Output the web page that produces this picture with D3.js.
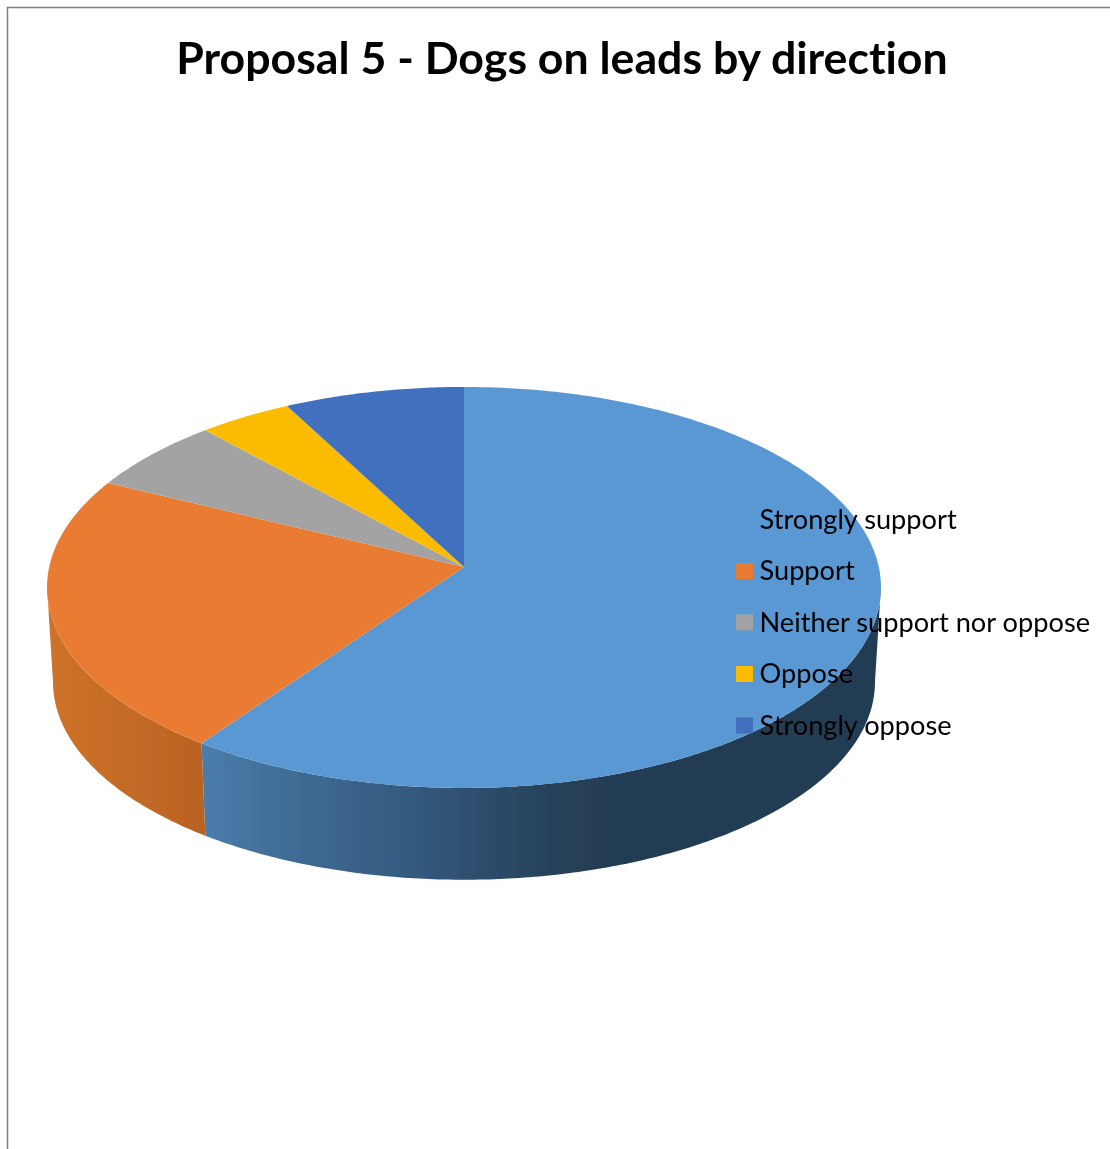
<!DOCTYPE html>
<html>
<head>
<meta charset="utf-8">
<script src="https://cdn.jsdelivr.net/npm/d3@7"></script>
<style>
  html, body { margin: 0; padding: 0; background: #fff; }
  svg { display: block; }
  text { font-family: Lato, "Open Sans", sans-serif; fill: #000; font-variant-ligatures: none; }
</style>
</head>
<body>
<div id="root"></div>
<script>
const chartTitle = "Proposal 5 - Dogs on leads by direction";
const categories = ["Strongly support", "Support", "Neither support nor oppose", "Oppose", "Strongly oppose"];
const shares = [59.85, 22.45, 6.0, 4.0, 7.7];
const colours = ["#5a98d4", "#e97b30", "#a3a3a3", "#fbbc04", "#406fbe"];

const width = 1110;
const height = 1149;

const svg = d3.select("#root")
  .append("svg")
  .attr("width", width)
  .attr("height", height);

const defs = svg.append("defs");

// the reference is a slightly soft screenshot
defs.append("filter")
  .attr("id", "soft")
  .attr("x", "-5%").attr("y", "-5%")
  .attr("width", "110%").attr("height", "110%")
  .append("feGaussianBlur")
  .attr("stdDeviation", 0.5);

const chart = svg.append("g").attr("filter", "url(#soft)");

// frame, only top and left show in the screenshot
chart.append("path")
  .attr("d", `M7.5,${height}V7.5H${width}`)
  .attr("fill", "none")
  .attr("stroke", "#808080")
  .attr("stroke-width", 1.5);

chart.append("text")
  .attr("x", 562)
  .attr("y", 74)
  .attr("text-anchor", "middle")
  .attr("font-size", 44.65)
  .attr("font-weight", 700)
  .text(chartTitle);

// pie is tilted with some perspective, so the apex sits above the ellipse centre
const cx = 464, cy = 567;
const tilt = 0.102;
const x = d3.scaleLinear().domain([-1, 1]).range([cx - 414.8, cx + 414.8]);
const y = d3.scaleLinear().domain([-1, 1]).range([cy + 198.4, cy - 198.4]);
const wallDrop = 95, wallShrink = 0.9856;

function topPoint(angle) {
  const u = Math.sin(angle), v = Math.cos(angle);
  const w = 1 + tilt * v;
  return [x(u / w), y(v / w)];
}

function bottomPoint(angle) {
  const p = topPoint(angle);
  return [cx + (p[0] - cx) * wallShrink, cy + wallDrop + (p[1] - cy) * wallShrink];
}

function anglesBetween(a0, a1) {
  const n = Math.max(2, Math.ceil((a1 - a0) * 90));
  return d3.range(n + 1).map(i => a0 + (a1 - a0) * i / n);
}

const outline = d3.line();

const arcs = d3.pie().sort(null).value(d => d)(shares);

function addGradient(id, x1, x2, stops) {
  const g = defs.append("linearGradient")
    .attr("id", id)
    .attr("gradientUnits", "userSpaceOnUse")
    .attr("x1", x1).attr("x2", x2)
    .attr("y1", 0).attr("y2", 0);
  stops.forEach(s => g.append("stop").attr("offset", s[0]).attr("stop-color", s[1]));
}

addGradient("wall0", 202, 620, [[0, "#4a7cab"], [0.25, "#3e6a92"], [0.55, "#32567a"], [0.85, "#264058"], [1, "#243d52"]]);
addGradient("wall1", 53, 204, [[0, "#cd7229"], [1, "#b96323"]]);

// only the front part of the rim can be seen
const wallStart = Math.PI / 2 + 0.1;
const wallEnd = 3 * Math.PI / 2 - 0.1;

const wallArcs = arcs
  .map((d, i) => ({ i, a0: Math.max(d.startAngle, wallStart), a1: Math.min(d.endAngle, wallEnd) }))
  .filter(d => d.a1 > d.a0);

chart.append("g")
  .selectAll("path")
  .data(wallArcs)
  .join("path")
  .attr("d", d => {
    const steps = anglesBetween(d.a0, d.a1);
    return outline(steps.map(topPoint).concat(steps.reverse().map(bottomPoint))) + "Z";
  })
  .attr("fill", d => `url(#wall${d.i})`);

chart.append("g")
  .selectAll("path")
  .data(arcs)
  .join("path")
  .attr("d", d => outline([[cx, cy]].concat(anglesBetween(d.startAngle, d.endAngle).map(topPoint))) + "Z")
  .attr("fill", (d, i) => colours[i]);

// legend sits on top of the pie
const legendY = d3.scalePoint().domain(categories).range([519.5, 725.5]);

const legend = chart.append("g")
  .selectAll("g")
  .data(categories)
  .join("g")
  .attr("transform", d => `translate(736,${legendY(d)})`);

legend.append("rect")
  .attr("y", -8)
  .attr("width", 17)
  .attr("height", 16)
  .attr("fill", (d, i) => colours[i]);

legend.append("text")
  .attr("x", 23.5)
  .attr("y", 9)
  .attr("font-size", 27.2)
  .text(d => d);
</script>
</body>
</html>
